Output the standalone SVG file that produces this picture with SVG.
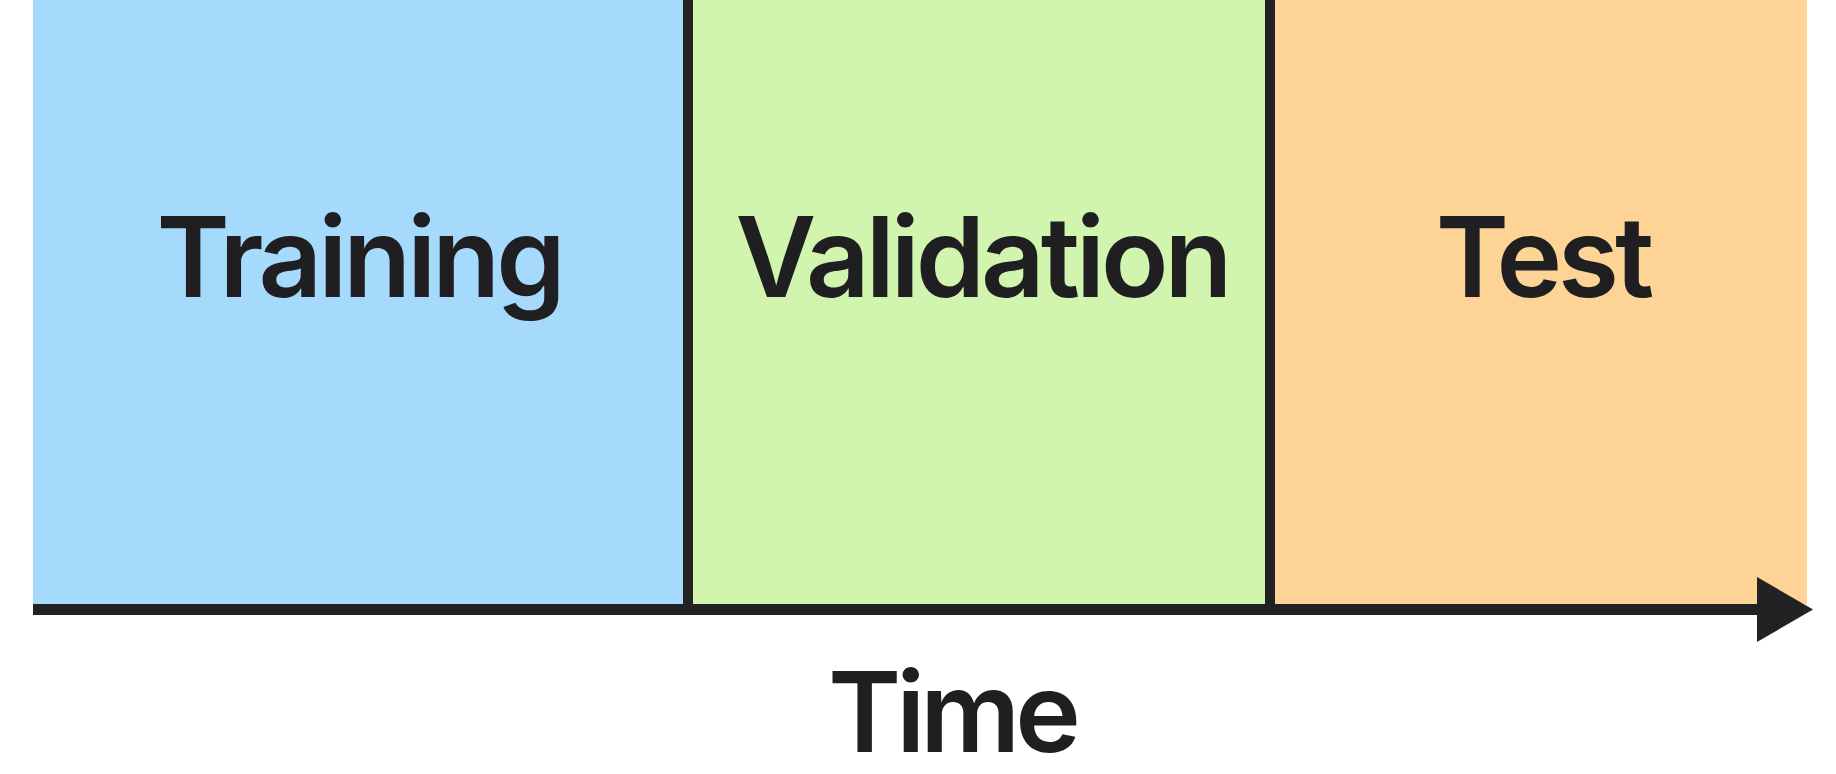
<svg xmlns="http://www.w3.org/2000/svg" width="1836" height="774" viewBox="0 0 1836 774">
<style>
.lbl{font-family:Inter,"Liberation Sans",sans-serif;font-weight:600;font-size:111px;letter-spacing:-4px;fill:#1f1f21;text-anchor:middle}
.div{stroke:#222224;stroke-width:10}
</style>
<rect width="1836" height="774" fill="#ffffff"/>
<g id="training">
<rect x="33" y="0" width="655" height="604" fill="#A6DAFD"/>
<text class="lbl" x="359" y="297">Training</text>
</g>
<g id="validation">
<rect x="688" y="0" width="582" height="604" fill="#D1F4AF"/>
<text class="lbl" x="982" y="297">Validation</text>
</g>
<g id="test">
<rect x="1270" y="0" width="537" height="604" fill="#FDD396"/>
<text class="lbl" x="1543" y="297">Test</text>
</g>
<g id="connectors">
<line class="div" x1="688" y1="0" x2="688" y2="604"/>
<line class="div" x1="1270" y1="0" x2="1270" y2="604"/>
<line x1="33" y1="609.5" x2="1760" y2="609.5" stroke="#222224" stroke-width="11"/>
<polygon points="1757,577 1813,609.5 1757,642" fill="#222224"/>
</g>
<g id="time">
<text class="lbl" x="952" y="752" style="letter-spacing:-5px">Time</text>
</g>
</svg>
